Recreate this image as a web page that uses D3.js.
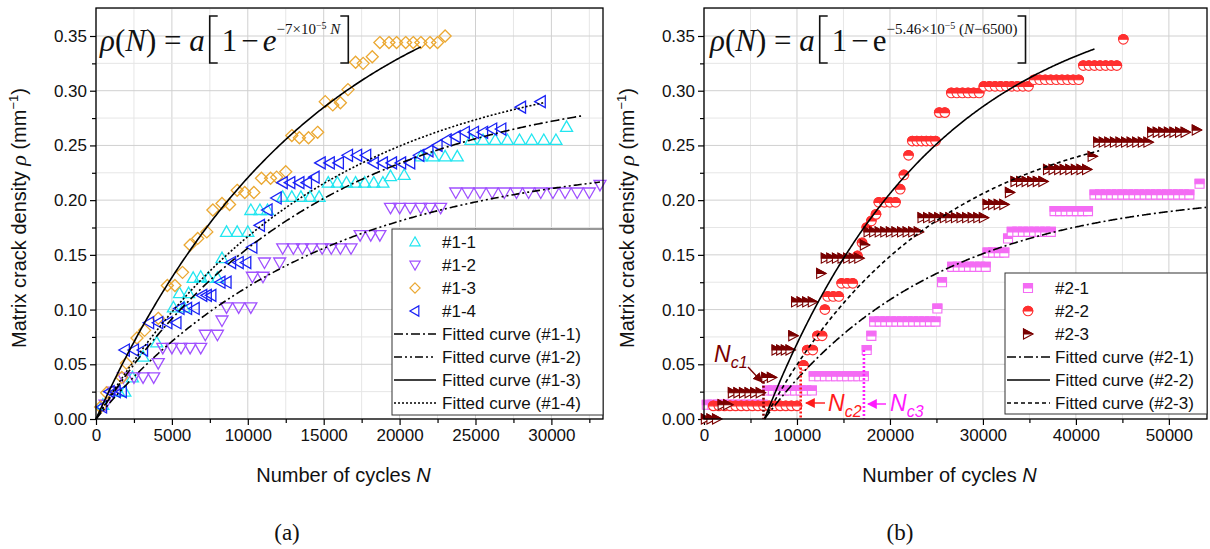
<!DOCTYPE html>
<html>
<head>
<meta charset="utf-8">
<script src="https://cdn.jsdelivr.net/npm/d3@7"></script>
<style>
  body { margin: 0; background: #fff; }
  svg { display: block; font-family: Arial, "Liberation Sans", sans-serif; }
</style>
</head>
<body>
<svg id="chart" width="1210" height="549"></svg>
<script>
// ---------- panel (a) : measured crack density, [N, rho] ----------
let a11 = [[450,0.013],[1500,0.025],[1900,0.025],[2400,0.038],[3100,0.057],[4000,0.07],[5100,0.102],[5500,0.115],[5800,0.102],[6100,0.115],[6400,0.129],[6900,0.13],[7400,0.129],[8000,0.129],[8300,0.147],[8600,0.171],[9300,0.171],[10000,0.171],[10200,0.191],[10800,0.191],[11300,0.191],[12300,0.203],[12900,0.203],[13500,0.203],[14100,0.203],[14700,0.203],[15300,0.216],[15900,0.216],[16500,0.216],[17100,0.216],[17700,0.216],[18300,0.216],[18900,0.216],[19400,0.222],[20300,0.223],[21400,0.24],[22200,0.24],[23000,0.24],[23800,0.24],[24700,0.255],[25500,0.255],[26300,0.255],[27100,0.255],[27900,0.255],[28700,0.255],[29500,0.255],[30300,0.255],[31000,0.267]];
let a12 = [[600,0.013],[1100,0.025],[1800,0.038],[2500,0.038],[3100,0.038],[3800,0.038],[4100,0.051],[4400,0.065],[5000,0.065],[5600,0.065],[6200,0.065],[6900,0.065],[7200,0.077],[8000,0.077],[8300,0.09],[8600,0.102],[9400,0.102],[10200,0.102],[10300,0.13],[11000,0.13],[11100,0.143],[12100,0.143],[12300,0.156],[13000,0.156],[13600,0.156],[14200,0.156],[14900,0.156],[15500,0.156],[16100,0.156],[16800,0.156],[17400,0.168],[18100,0.168],[18700,0.168],[19400,0.193],[20000,0.193],[20700,0.193],[21400,0.193],[22000,0.193],[22700,0.193],[23700,0.207],[24500,0.207],[25300,0.207],[26100,0.207],[26900,0.207],[27700,0.207],[28500,0.207],[29300,0.207],[30100,0.207],[30900,0.207],[31700,0.207],[32500,0.207],[33200,0.214]];
let a13 = [[300,0.011],[700,0.024],[1700,0.038],[2000,0.051],[2700,0.074],[3200,0.081],[4100,0.092],[4700,0.122],[5200,0.122],[5700,0.134],[6200,0.159],[6700,0.165],[7300,0.171],[7700,0.191],[8300,0.197],[8800,0.196],[9300,0.209],[9800,0.207],[10400,0.207],[10900,0.22],[11500,0.22],[11900,0.221],[12500,0.226],[12900,0.259],[13400,0.257],[14000,0.257],[14600,0.262],[15100,0.29],[15600,0.287],[16100,0.289],[16600,0.301],[17100,0.326],[17600,0.325],[18200,0.331],[18700,0.344],[19300,0.344],[19800,0.344],[20400,0.344],[20900,0.344],[21400,0.344],[22000,0.344],[22500,0.344],[23000,0.35]];
let a14 = [[400,0.011],[900,0.025],[1300,0.025],[1700,0.025],[1900,0.063],[2500,0.063],[3100,0.063],[3500,0.088],[4100,0.088],[4700,0.088],[5300,0.088],[5500,0.101],[6000,0.101],[6500,0.101],[7000,0.113],[7300,0.113],[7600,0.113],[8200,0.125],[8600,0.125],[8900,0.143],[9400,0.143],[9900,0.143],[10300,0.157],[10800,0.177],[11300,0.191],[11900,0.202],[12300,0.216],[12800,0.216],[13400,0.216],[13900,0.216],[14400,0.221],[14800,0.234],[15400,0.234],[16000,0.234],[16600,0.241],[17200,0.241],[17800,0.241],[18300,0.234],[18900,0.234],[19500,0.234],[20100,0.234],[20700,0.234],[21300,0.241],[21900,0.245],[22500,0.25],[23100,0.255],[23700,0.258],[24300,0.262],[24900,0.262],[25500,0.262],[26100,0.265],[26700,0.265],[28000,0.285],[29300,0.29]];
let namesA = ['#1-1', '#1-2', '#1-3', '#1-4'];
let fitAmpA = [0.31, 0.24, 0.438, 0.331];      // a of each fitted curve
let fitEndA = [32000, 33200, 21400, 29500];    // last N of each fitted curve
let rateA = 7e-5;

// ---------- panel (b) ----------
let b21 = [[300,0.013],[900,0.013],[1500,0.013],[2100,0.013],[2700,0.013],[3300,0.013],[3900,0.013],[4500,0.013],[5100,0.013],[5700,0.013],[6300,0.013],
  [6800,0.026],[7400,0.026],[8000,0.026],[8600,0.026],[9200,0.026],[9800,0.026],[10400,0.026],[11000,0.026],[11600,0.026],
  [11800,0.039],[12400,0.039],[13000,0.039],[13600,0.039],[14200,0.039],[14800,0.039],[15400,0.039],[16000,0.039],[16600,0.039],[17200,0.039],
  [17500,0.063],[18000,0.076],
  [18300,0.089],[18900,0.089],[19500,0.089],[20100,0.089],[20700,0.089],[21300,0.089],[21900,0.089],[22500,0.089],[23100,0.089],[23700,0.089],[24300,0.089],[24900,0.089],
  [25100,0.101],[25600,0.125],
  [26700,0.139],[27300,0.139],[27900,0.139],[28500,0.139],[29100,0.139],[29700,0.139],[30300,0.139],
  [30500,0.152],[31100,0.152],[31700,0.152],[32300,0.152],[32700,0.165],
  [33100,0.171],[33700,0.171],[34300,0.171],[34900,0.171],[35500,0.171],[36100,0.171],[36700,0.171],[37300,0.171],
  [37700,0.19],[38300,0.19],[38900,0.19],[39500,0.19],[40100,0.19],[40700,0.19],[41300,0.19],
  [42000,0.205],[42600,0.205],[43200,0.205],[43800,0.205],[44400,0.205],[45000,0.205],[45600,0.205],[46200,0.205],[46800,0.205],[47400,0.205],[48000,0.205],[48600,0.205],[49200,0.205],[49800,0.205],[50400,0.205],[51000,0.205],[51600,0.205],[52200,0.205],
  [53300,0.215]];
let b22 = [[1000,0.012],[1600,0.012],[2200,0.012],[2800,0.012],[3400,0.012],[4000,0.012],[4600,0.012],[5200,0.012],[5800,0.012],[6400,0.012],[7000,0.012],[7600,0.012],[8200,0.012],[8800,0.012],[9400,0.012],[10000,0.012],
  [10700,0.049],[11100,0.063],[11700,0.063],[12200,0.076],[12700,0.076],[13000,0.1],
  [13300,0.112],[13900,0.112],[14500,0.112],[14800,0.124],[15400,0.124],[16000,0.124],
  [16500,0.149],[17000,0.161],[17500,0.175],[18000,0.181],[18500,0.187],
  [18800,0.198],[19400,0.198],[20000,0.198],[20600,0.198],[21100,0.21],[21500,0.223],[22000,0.241],
  [22400,0.254],[22900,0.254],[23400,0.254],[23900,0.254],[24400,0.254],[24900,0.254],
  [25300,0.28],[25900,0.28],
  [26600,0.298],[27200,0.298],[27800,0.298],[28400,0.298],[29000,0.298],[29600,0.298],
  [30100,0.304],[30700,0.304],[31300,0.304],[31900,0.304],[32500,0.304],[33100,0.304],[33700,0.304],[34300,0.304],[34900,0.304],
  [35500,0.31],[36100,0.31],[36700,0.31],[37300,0.31],[37900,0.31],[38500,0.31],[39100,0.31],[39700,0.31],[40300,0.31],
  [40800,0.323],[41400,0.323],[42000,0.323],[42600,0.323],[43200,0.323],[43800,0.323],[44400,0.323],
  [45100,0.347]];
let b23 = [[200,0.0],[800,0.0],[1400,0.0],[2000,0.013],[2600,0.013],
  [3100,0.024],[3700,0.024],[4300,0.024],[4900,0.024],[5500,0.024],[6100,0.024],
  [6700,0.038],[7300,0.038],[7800,0.063],[8300,0.063],[8800,0.063],[9300,0.063],[9600,0.076],
  [9900,0.107],[10500,0.107],[11100,0.107],[11700,0.107],[12600,0.133],
  [13100,0.147],[13700,0.147],[14300,0.147],[14900,0.147],[15500,0.147],[16100,0.147],[16700,0.147],[17300,0.159],
  [17700,0.171],[18300,0.171],[18900,0.171],[19500,0.171],[20100,0.171],[20700,0.171],[21300,0.171],[21900,0.171],[22500,0.171],[23100,0.171],
  [23500,0.184],[24100,0.184],[24700,0.184],[25300,0.184],[25900,0.184],[26500,0.184],[27100,0.184],[27700,0.184],[28300,0.184],[28900,0.184],[29500,0.184],[30100,0.184],
  [30500,0.196],[31100,0.196],[31700,0.196],[32300,0.196],[32900,0.207],
  [33500,0.217],[34100,0.217],[34700,0.217],[35300,0.217],[35900,0.217],[36500,0.217],
  [37000,0.228],[37600,0.228],[38200,0.228],[38800,0.228],[39400,0.228],[40000,0.228],[40600,0.228],[41200,0.228],[41800,0.24],
  [42400,0.253],[43000,0.253],[43600,0.253],[44200,0.253],[44800,0.253],[45400,0.253],[46000,0.253],[46600,0.253],[47200,0.253],[47800,0.253],
  [48200,0.262],[48800,0.262],[49400,0.262],[50000,0.262],[50600,0.262],[51200,0.262],[51800,0.262],[53000,0.264]];
let namesB = ['#2-1', '#2-2', '#2-3'];
let fitAmpB = [0.209, 0.395, 0.285];
let fitEndB = [54000, 42000, 42500];
let rateB = 5.46e-5;
let startB = 6500;
let ncN = [6400, 10400, 17200];        // N_c1, N_c2, N_c3
let ncTop = [0.034, 0.047, 0.063];     // height of the dotted marker lines

let yTicks = [0, 0.05, 0.1, 0.15, 0.2, 0.25, 0.3, 0.35];

const svg = d3.select('#chart');
const serif = '"Liberation Serif", "Times New Roman", serif';

// shared y scale (both panels use the same vertical layout)
let y = d3.scaleLinear().domain([0, 0.35]).range([419, 36]);
let plotTop = 8;

function frame(x, xMajor, xMinor, labelX) {
  let g = svg.append('g');
  let [x0, x1] = x.range();
  // grid: minor then major
  let xs = d3.range(0, x.domain()[1], xMinor);
  let ys = d3.range(0, y.invert(plotTop), 0.025);
  g.selectAll('.vg').data(xs).enter().append('line')
    .attr('x1', (d) => x(d)).attr('x2', (d) => x(d)).attr('y1', plotTop).attr('y2', y(0))
    .attr('stroke', (d) => (Math.round(d / xMinor) % 2 === 0 ? '#d0d0d0' : '#e6e6e6')).attr('stroke-width', 1);
  g.selectAll('.hg').data(ys).enter().append('line')
    .attr('x1', x0).attr('x2', x1).attr('y1', (d) => y(d)).attr('y2', (d) => y(d))
    .attr('stroke', (d, i) => (i % 2 === 0 ? '#d0d0d0' : '#e6e6e6')).attr('stroke-width', 1);

  // axes
  let xAxis = d3.axisBottom(x).tickValues(d3.range(0, x.domain()[1], xMajor)).tickSize(6).tickPadding(4).tickFormat(d3.format('d'));
  let xMin = d3.axisBottom(x).tickValues(d3.range(xMinor, x.domain()[1], xMajor)).tickSize(4).tickFormat('');
  let yAxis = d3.axisLeft(y).tickValues(yTicks).tickSize(6).tickPadding(3).tickFormat(d3.format('.2f'));
  let yMin = d3.axisLeft(y).tickValues(d3.range(0.025, 0.37, 0.05)).tickSize(4).tickFormat('');
  [[xAxis, 'translate(0,' + y(0) + ')'], [xMin, 'translate(0,' + y(0) + ')'], [yAxis, 'translate(' + x0 + ',0)'], [yMin, 'translate(' + x0 + ',0)']]
    .forEach(([ax, tr]) => {
      let a = svg.append('g').attr('transform', tr).call(ax);
      a.select('.domain').remove();
      a.selectAll('line').attr('stroke', '#000').attr('stroke-width', 1.2);
      a.selectAll('text').attr('font-size', 17).attr('fill', '#111').attr('font-family', 'Arial, "Liberation Sans", sans-serif');
    });

  // axis titles
  let yt = svg.append('text').attr('transform', 'translate(' + (x0 - 70) + ',' + 218 + ') rotate(-90)')
    .attr('text-anchor', 'middle').attr('font-size', 20).attr('fill', '#111');
  yt.append('tspan').text('Matrix crack density ');
  yt.append('tspan').attr('font-style', 'italic').attr('font-family', serif).attr('font-size', 22).text('ρ');
  yt.append('tspan').text(' (mm');
  yt.append('tspan').attr('font-size', 13).attr('dy', -8).text('−1');
  yt.append('tspan').attr('dy', 8).text(')');

  let xt = svg.append('text').attr('x', (x0 + x1) / 2 - 6).attr('y', 482).attr('text-anchor', 'middle').attr('font-size', 20).attr('fill', '#111');
  xt.append('tspan').text('Number of cycles ');
  xt.append('tspan').attr('font-style', 'italic').text('N');

  svg.append('text').attr('x', labelX).attr('y', 540).attr('text-anchor', 'middle')
    .attr('font-family', serif).attr('font-size', 23).attr('fill', '#111').text(labelX < 600 ? '(a)' : '(b)');
  return g;
}

function drawFrameBorder(x) {
  let [x0, x1] = x.range();
  svg.append('rect').attr('x', x0).attr('y', plotTop).attr('width', x1 - x0).attr('height', y(0) - plotTop)
    .attr('fill', 'none').attr('stroke', '#000').attr('stroke-width', 1.3);
}

function fitCurve(x, amp, rate, n0, nEnd, dash) {
  let pts = d3.range(n0, nEnd + 1, 100).map((n) => [n, amp * (1 - Math.exp(-rate * (n - n0)))]);
  let line = d3.line().x((d) => x(d[0])).y((d) => y(d[1]));
  svg.append('path').attr('d', line(pts)).attr('fill', 'none').attr('stroke', '#000')
    .attr('stroke-width', 1.6).attr('stroke-dasharray', dash);
}

// ----- marker shapes -----
let openShapes = {
  up: 'M0,-6L6,4.5L-6,4.5Z',
  down: 'M0,6L6,-4.5L-6,-4.5Z',
  diamond: 'M0,-6L6,0L0,6L-6,0Z',
  left: 'M-6,0L4.5,-6L4.5,6Z'
};
let halfShapes = {
  square: { full: 'M-4.5,-4.5H4.5V4.5H-4.5Z', top: 'M-4.5,-4.5H4.5V0H-4.5Z' },
  circle: { full: 'M-4.8,0A4.8,4.8 0 1 1 4.8,0A4.8,4.8 0 1 1 -4.8,0Z', top: 'M-4.8,0A4.8,4.8 0 0 1 4.8,0Z' },
  right: { full: 'M-4.5,-5L5,0L-4.5,5Z', top: 'M-4.5,-5L5,0L-4.5,0Z' }
};

function openMarkers(x, data, shape, color) {
  svg.append('g').selectAll('path').data(data).enter().append('path')
    .attr('transform', (d) => 'translate(' + x(d[0]) + ',' + y(d[1]) + ')')
    .attr('d', openShapes[shape]).attr('fill', 'none').attr('stroke', color).attr('stroke-width', 1.3);
}

function halfMarker(sel, shape, color) {
  sel.append('path').attr('d', halfShapes[shape].full).attr('fill', '#fff').attr('stroke', color).attr('stroke-width', 1.1);
  sel.append('path').attr('d', halfShapes[shape].top).attr('fill', color).attr('stroke', color).attr('stroke-width', 1.1);
}

function halfMarkers(x, data, shape, color) {
  let g = svg.append('g').selectAll('g').data(data).enter().append('g')
    .attr('transform', (d) => 'translate(' + x(d[0]) + ',' + y(d[1]) + ')');
  halfMarker(g, shape, color);
}

// ================= panel (a) =================
let xA = d3.scaleLinear().domain([0, 33400]).range([96, 603]);
frame(xA, 5000, 2500, 287);
let colorsA = ['#22e6f0', '#a050ff', '#eba832', '#1a22f5'];
let shapesA = ['up', 'down', 'diamond', 'left'];
let dashA = ['9,3,2,3', '8,3,2,3,2,3', null, '2,2'];
[a11, a12, a13, a14].forEach((s, i) => openMarkers(xA, s, shapesA[i], colorsA[i]));
fitAmpA.forEach((amp, i) => fitCurve(xA, amp, rateA, 0, fitEndA[i], dashA[i]));
drawFrameBorder(xA);

// legend (a)
let legA = svg.append('g');
legA.append('rect').attr('x', 392).attr('y', 229).attr('width', 211).attr('height', 186)
  .attr('fill', '#fff').attr('stroke', '#333').attr('stroke-width', 1);
namesA.forEach((n, i) => {
  let cy = 242 + 23 * i;
  legA.append('path').attr('transform', 'translate(415,' + cy + ') scale(0.85)').attr('d', openShapes[shapesA[i]])
    .attr('fill', 'none').attr('stroke', colorsA[i]).attr('stroke-width', 1.4);
  legA.append('text').attr('x', 442).attr('y', cy + 6).attr('font-size', 17).attr('fill', '#111').text(n);
});
namesA.forEach((n, i) => {
  let cy = 242 + 23 * (i + 4);
  legA.append('line').attr('x1', 394).attr('x2', 436).attr('y1', cy).attr('y2', cy)
    .attr('stroke', '#000').attr('stroke-width', 1.6).attr('stroke-dasharray', dashA[i]);
  legA.append('text').attr('x', 442).attr('y', cy + 6).attr('font-size', 17).attr('fill', '#111').text('Fitted curve (' + n + ')');
});

// ================= panel (b) =================
let xB = d3.scaleLinear().domain([0, 54100]).range([704, 1207]);
frame(xB, 10000, 5000, 900);
let colorsB = ['#f46cf4', '#ff2f2f', '#7a0000'];
let shapesB = ['square', 'circle', 'right'];
let dashB = ['9,3,2,3', null, '4,3'];
let ncColors = ['#7a0000', '#ff1a1a', '#ff1aff'];
[b21, b22, b23].forEach((s, i) => halfMarkers(xB, s, shapesB[i], colorsB[i]));
fitAmpB.forEach((amp, i) => fitCurve(xB, amp, rateB, startB, fitEndB[i], dashB[i]));

// critical cycle markers
ncN.forEach((n, i) => {
  svg.append('line').attr('x1', xB(n)).attr('x2', xB(n)).attr('y1', y(ncTop[i])).attr('y2', y(0))
    .attr('stroke', ncColors[i]).attr('stroke-width', 2.6).attr('stroke-dasharray', '2,2');
});
let defs = svg.append('defs');
ncColors.forEach((c, i) => {
  defs.append('marker').attr('id', 'arr' + i).attr('viewBox', '0 0 10 10').attr('refX', 9).attr('refY', 5)
    .attr('markerWidth', 7).attr('markerHeight', 7).attr('orient', 'auto')
    .append('path').attr('d', 'M0,0L10,5L0,10Z').attr('fill', c);
});
// label positions for the three N_c annotations
let ncLab = [[714, 362], [828, 411], [890, 411]];
let ncArrow = [[[748, 367], [762, 382]], [[825, 403], [806, 403]], [[886, 404], [868, 404]]];
ncN.forEach((n, i) => {
  let t = svg.append('text').attr('x', ncLab[i][0]).attr('y', ncLab[i][1]).attr('fill', ncColors[i])
    .attr('font-size', 23).attr('font-style', 'italic');
  t.append('tspan').text('N');
  t.append('tspan').attr('font-size', 16).attr('dy', 6).text('c' + (i + 1));
  svg.append('line').attr('x1', ncArrow[i][0][0]).attr('y1', ncArrow[i][0][1])
    .attr('x2', ncArrow[i][1][0]).attr('y2', ncArrow[i][1][1])
    .attr('stroke', ncColors[i]).attr('stroke-width', 1.4).attr('marker-end', 'url(#arr' + i + ')');
});
drawFrameBorder(xB);

// legend (b)
let legB = svg.append('g');
legB.append('rect').attr('x', 1005).attr('y', 273).attr('width', 202).attr('height', 141)
  .attr('fill', '#fff').attr('stroke', '#333').attr('stroke-width', 1);
namesB.forEach((n, i) => {
  let cy = 288 + 23 * i;
  let m = legB.append('g').attr('transform', 'translate(1028,' + cy + ')');
  halfMarker(m, shapesB[i], colorsB[i]);
  legB.append('text').attr('x', 1055).attr('y', cy + 6).attr('font-size', 17).attr('fill', '#111').text(n);
});
namesB.forEach((n, i) => {
  let cy = 288 + 23 * (i + 3);
  legB.append('line').attr('x1', 1007).attr('x2', 1050).attr('y1', cy).attr('y2', cy)
    .attr('stroke', '#000').attr('stroke-width', 1.6).attr('stroke-dasharray', dashB[i]);
  legB.append('text').attr('x', 1055).attr('y', cy + 6).attr('font-size', 17).attr('fill', '#111').text('Fitted curve (' + n + ')');
});

// ----- formulas -----
function formula(x, upright) {
  let g = svg.append('g').attr('font-family', serif).attr('fill', '#111');
  let t1 = g.append('text').attr('x', x).attr('y', 51).attr('font-size', 31);
  t1.append('tspan').attr('font-style', 'italic').text('ρ');
  t1.append('tspan').text('(');
  t1.append('tspan').attr('font-style', 'italic').text('N');
  t1.append('tspan').text(') = ');
  t1.append('tspan').attr('font-style', 'italic').text('a');
  let bx = t1.node().getComputedTextLength() + x + 5;
  let t2 = g.append('text').attr('x', bx + 12).attr('y', 51).attr('font-size', 31);
  t2.append('tspan').text('1');
  t2.append('tspan').attr('dx', 4).text('−');
  t2.append('tspan').attr('dx', 4).attr('font-style', upright ? 'normal' : 'italic').text('e');
  let sup = t2.append('tspan').attr('font-size', 15).attr('dy', -17);
  if (upright) {
    sup.text('−5.46×10');
    t2.append('tspan').attr('font-size', 10).attr('dy', -5).text('−5');
    t2.append('tspan').attr('font-size', 15).attr('dy', 5).text(' (');
    t2.append('tspan').attr('font-size', 15).attr('font-style', 'italic').text('N');
    t2.append('tspan').attr('font-size', 15).text('−6500)');
  } else {
    sup.text('−7×10');
    t2.append('tspan').attr('font-size', 10).attr('dy', -5).text('−5');
    t2.append('tspan').attr('font-size', 15).attr('dy', 5).attr('font-style', 'italic').text(' N');
  }
  let ex = bx + 12 + t2.node().getComputedTextLength() + 16;
  let br = (x0, dir) => 'M' + (x0 + 8 * dir) + ',16H' + x0 + 'V63H' + (x0 + 8 * dir);
  g.append('path').attr('d', br(bx, 1)).attr('fill', 'none').attr('stroke', '#111').attr('stroke-width', 1.6);
  g.append('path').attr('d', br(ex, -1)).attr('fill', 'none').attr('stroke', '#111').attr('stroke-width', 1.6);
}
formula(100, false);
formula(710, true);
</script>
</body>
</html>
